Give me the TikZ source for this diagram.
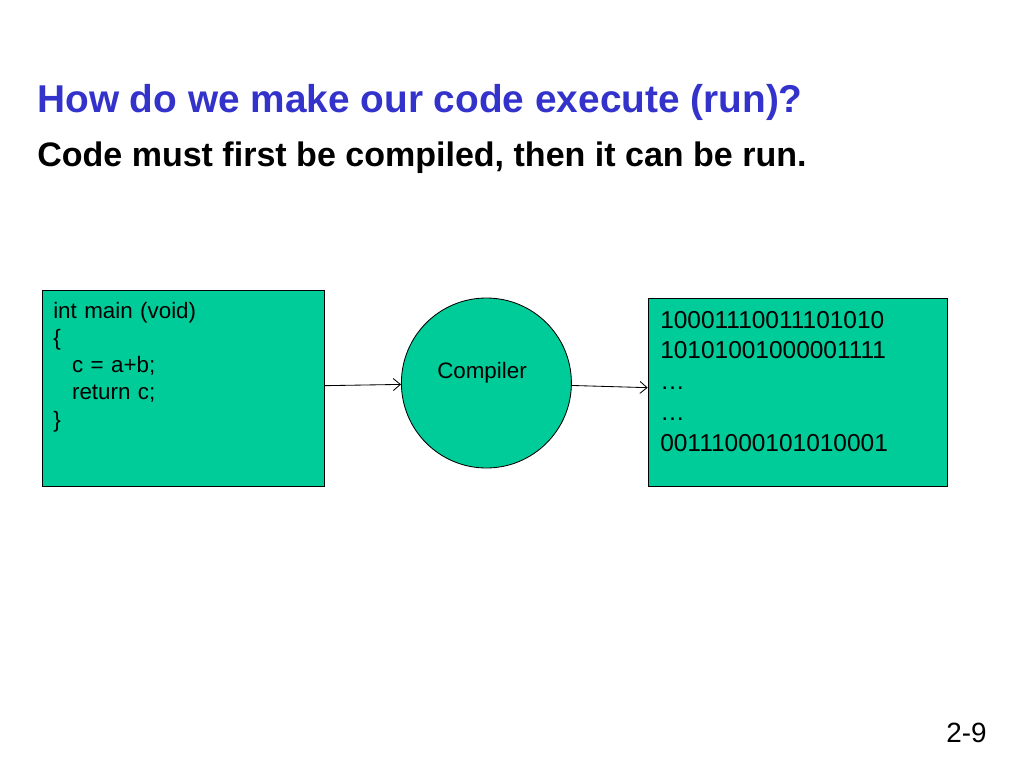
\documentclass[tikz,border=0pt]{standalone}
\usepackage{fontspec}
\setmainfont{Liberation Sans}
\usetikzlibrary{arrows.meta,positioning}
\definecolor{slideblue}{RGB}{51,51,204}
\definecolor{boxgreen}{RGB}{0,204,153}

\begin{document}
\begin{tikzpicture}
\useasboundingbox (0,0) rectangle (25.6,-19.2);
\tikzset{box/.style = {draw, fill=boxgreen, line width=.6pt, inner sep=0pt},
txt/.style = {inner sep=0pt, align=left},
edge/.style = {->, > = {Straight Barb[length=5pt,width=8.5pt]}, line width=.6pt}}
%heading and subheading
\node[txt, anchor=base west, text=slideblue, font=\fontsize{27.6}{33}\selectfont\bfseries] (title) at (.925,-2.825) {How do we make our code execute (run)?};
\node[txt, anchor=base west, font=\fontsize{24.2}{29}\selectfont\bfseries] (sub) at (.925,-4.1625) {Code must first be compiled, then it can be run.};
%source code box
\node[box, minimum width=7.05cm, minimum height=4.9cm] (src) at (4.575,-9.7) {};
\node[txt, anchor=base west, text width=6.5cm, font=\fontsize{15.9}{19.4}\selectfont] (srctext) at (1.325,-7.95) {int main (void)\\ \{\\ \hspace*{.84em}c = a+b;\\ \hspace*{.84em}return c;\\ \}};
%compiler
\node[box, circle, minimum size=4.25cm] (comp) at (12.16,-9.575) {};
\node[txt, anchor=base, font=\fontsize{15.9}{19.4}\selectfont] (comptext) at (12.05,-9.47) {Compiler};
%machine code box
\node[box, minimum width=7.475cm, minimum height=4.7cm] (bin) at (19.94,-9.8) {};
\node[txt, anchor=base west, text width=7cm, font=\fontsize{17.4}{22}\selectfont] (bintext) at (16.5,-8.2) {10001110011101010\\ 10101001000001111\\ …\\ …\\ 00111000101010001};
%arrows
\draw[edge] (src) -- (comp);
\draw[edge] (comp) -- (bin);
%slide number
\node[txt, anchor=base east, font=\fontsize{19.8}{24}\selectfont] (page) at (24.675,-18.55) {2-9};
\end{tikzpicture}
\end{document}
